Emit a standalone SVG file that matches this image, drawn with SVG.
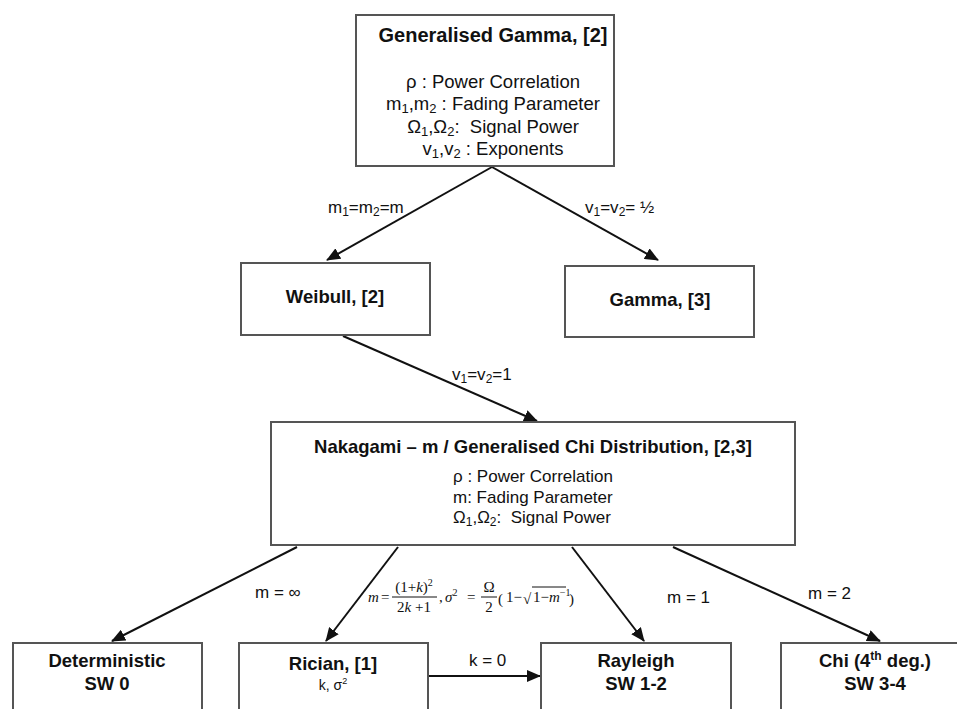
<svg xmlns="http://www.w3.org/2000/svg" width="957" height="709" viewBox="0 0 957 709">
<defs>
<marker id="ah" markerUnits="userSpaceOnUse" markerWidth="14" markerHeight="12" viewBox="0 0 14 12" refX="13" refY="6" orient="auto">
<path d="M0,0 L14,6 L0,12 Z" fill="#111"/>
</marker>
</defs>
<style>
.box{fill:#fff;stroke:#555;stroke-width:2}
.t{font-family:"Liberation Sans",Arial,sans-serif;fill:#111}
.b{font-weight:bold;font-size:18.5px}
.r{font-size:18.5px}
.s{font-size:17px}
.e{fill:none;stroke:#111;stroke-width:2;marker-end:url(#ah)}
.m{font-family:"Liberation Serif","Times New Roman",serif;fill:#111;font-size:15px}
</style>
<rect width="957" height="709" fill="#fff"/>
<g id="connectors">
<line class="e" x1="492" y1="167" x2="327" y2="260"/>
<line class="e" x1="492" y1="167" x2="658" y2="260"/>
<line class="e" x1="343" y1="336" x2="537" y2="421"/>
<line class="e" x1="297" y1="547" x2="112" y2="641"/>
<line class="e" x1="398" y1="547" x2="326" y2="641"/>
<line class="e" x1="572" y1="547" x2="644" y2="641"/>
<line class="e" x1="673" y1="547" x2="880" y2="641"/>
<line class="e" x1="429" y1="676" x2="540" y2="676"/>
<text class="t s" x="328" y="213">m<tspan font-size="12" dy="3">1</tspan><tspan dy="-3">=m</tspan><tspan font-size="12" dy="3">2</tspan><tspan dy="-3">=m</tspan></text>
<text class="t s" x="585" y="213">v<tspan font-size="12" dy="3">1</tspan><tspan dy="-3">=v</tspan><tspan font-size="12" dy="3">2</tspan><tspan dy="-3">= ½</tspan></text>
<text class="t s" x="452" y="380">v<tspan font-size="12" dy="3">1</tspan><tspan dy="-3">=v</tspan><tspan font-size="12" dy="3">2</tspan><tspan dy="-3">=1</tspan></text>
<text class="t s" x="255" y="598">m = ∞</text>
<text class="t s" x="667" y="603">m = 1</text>
<text class="t s" x="808" y="599">m = 2</text>
<text class="t s" x="469" y="666">k = 0</text>
<g id="formula">
<text class="m" x="368" y="602" font-style="italic">m</text>
<text class="m" x="381" y="602">=</text>
<text class="m" x="414" y="592" text-anchor="middle">(1+<tspan font-style="italic">k</tspan>)<tspan font-size="10" dy="-6">2</tspan></text>
<line x1="392" y1="597" x2="437" y2="597" stroke="#111" stroke-width="1"/>
<text class="m" x="414" y="612" text-anchor="middle">2<tspan font-style="italic">k</tspan> +1</text>
<text class="m" x="439" y="602">,</text>
<text class="m" x="445" y="602" font-style="italic">σ<tspan font-style="normal" font-size="10" dy="-6">2</tspan></text>
<text class="m" x="467" y="602">=</text>
<text class="m" x="489" y="592" text-anchor="middle">Ω</text>
<line x1="481" y1="597" x2="497" y2="597" stroke="#111" stroke-width="1"/>
<text class="m" x="489" y="612" text-anchor="middle">2</text>
<text class="m" x="498" y="604" font-size="22">(</text>
<text class="m" x="506" y="602">1−</text>
<text class="m" x="523" y="604" font-size="17">√</text>
<line x1="532" y1="587" x2="566" y2="587" stroke="#111" stroke-width="1"/>
<text class="m" x="533" y="602">1−<tspan font-style="italic">m</tspan><tspan font-size="10" dy="-6">−1</tspan></text>
<text class="m" x="569" y="604" font-size="22">)</text>
</g>
</g>
<g id="gen-gamma">
<rect class="box" x="356" y="15" width="258" height="151"/>
<text class="t" x="493" y="42" text-anchor="middle" font-weight="bold" font-size="20">Generalised Gamma, [2]</text>
<text class="t r" x="493" y="88" text-anchor="middle">ρ : Power Correlation</text>
<text class="t r" x="493" y="110" text-anchor="middle">m<tspan font-size="13" dy="3">1</tspan><tspan dy="-3">,m</tspan><tspan font-size="13" dy="3">2</tspan><tspan dy="-3"> : Fading Parameter</tspan></text>
<text class="t r" x="493" y="133" text-anchor="middle">Ω<tspan font-size="13" dy="3">1</tspan><tspan dy="-3">,Ω</tspan><tspan font-size="13" dy="3">2</tspan><tspan dy="-3">:&#160; Signal Power</tspan></text>
<text class="t r" x="493" y="155" text-anchor="middle">v<tspan font-size="13" dy="3">1</tspan><tspan dy="-3">,v</tspan><tspan font-size="13" dy="3">2</tspan><tspan dy="-3"> : Exponents</tspan></text>
</g>
<g id="weibull">
<rect class="box" x="241" y="263" width="189" height="72"/>
<text class="t b" x="335" y="303" text-anchor="middle">Weibull, [2]</text>
</g>
<g id="gamma">
<rect class="box" x="565" y="266" width="189" height="71"/>
<text class="t b" x="660" y="306" text-anchor="middle">Gamma, [3]</text>
</g>
<g id="nakagami">
<rect class="box" x="271" y="422" width="524" height="123"/>
<text class="t b" x="533" y="453" text-anchor="middle">Nakagami – m / Generalised Chi Distribution, [2,3]</text>
<text class="t s" x="453" y="482">ρ : Power Correlation</text>
<text class="t s" x="453" y="503">m: Fading Parameter</text>
<text class="t s" x="453" y="523">Ω<tspan font-size="12" dy="3">1</tspan><tspan dy="-3">,Ω</tspan><tspan font-size="12" dy="3">2</tspan><tspan dy="-3">:&#160; Signal Power</tspan></text>
</g>
<g id="deterministic">
<rect class="box" x="13" y="643" width="189" height="100"/>
<text class="t b" x="107" y="667" text-anchor="middle">Deterministic</text>
<text class="t b" x="107" y="690" text-anchor="middle">SW 0</text>
</g>
<g id="rician">
<rect class="box" x="239" y="643" width="189" height="100"/>
<text class="t b" x="333" y="670" text-anchor="middle">Rician, [1]</text>
<text class="t" x="333" y="690" text-anchor="middle" font-size="14">k, σ<tspan font-size="9" dy="-6">2</tspan></text>
</g>
<g id="rayleigh">
<rect class="box" x="541" y="643" width="190" height="100"/>
<text class="t b" x="636" y="667" text-anchor="middle">Rayleigh</text>
<text class="t b" x="636" y="690" text-anchor="middle">SW 1-2</text>
</g>
<g id="chi">
<rect class="box" x="781" y="643" width="188" height="100"/>
<text class="t b" x="875" y="667" text-anchor="middle">Chi (4<tspan font-size="12" dy="-7">th</tspan><tspan dy="7"> deg.)</tspan></text>
<text class="t b" x="875" y="690" text-anchor="middle">SW 3-4</text>
</g>
</svg>
